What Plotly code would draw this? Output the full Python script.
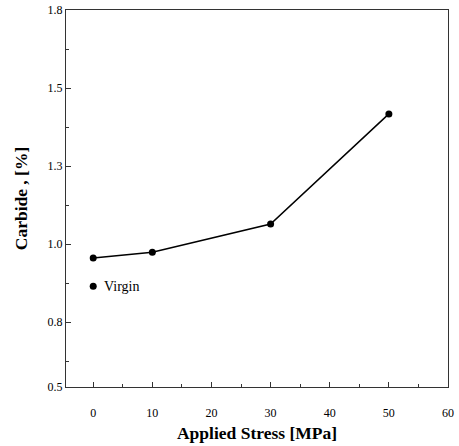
import plotly.graph_objects as go

stress = [0, 10, 30, 50]
carbide = [0.955, 0.974, 1.064, 1.417]
virgin_x = [0]
virgin_y = [0.865]

y_tickvals = [0.542, 0.75, 1.0, 1.25, 1.5, 1.75]
y_ticktext = ["0.5", "0.8", "1.0", "1.3", "1.5", "1.8"]
y_minor = [0.625, 0.875, 1.125, 1.375, 1.625]
x_tickvals = [0, 10, 20, 30, 40, 50, 60]
x_minor = [5, 15, 25, 35, 45, 55]

font_serif = "Liberation Serif, Times New Roman, serif"

fig = go.Figure()
fig.add_trace(go.Scatter(
    x=stress, y=carbide, mode="lines+markers",
    line=dict(color="black", width=1.5),
    marker=dict(color="black", size=7),
    showlegend=False, cliponaxis=False,
))
fig.add_trace(go.Scatter(
    x=virgin_x, y=virgin_y, mode="markers",
    marker=dict(color="black", size=7),
    showlegend=False, cliponaxis=False,
))
fig.add_annotation(
    x=virgin_x[0], y=virgin_y[0], text="Virgin", showarrow=False,
    xanchor="left", yanchor="middle", xshift=9,
    font=dict(family=font_serif, size=14, color="black"),
)

axis_common = dict(
    showline=True, linecolor="#333", linewidth=1, mirror=True,
    ticks="inside", ticklen=5, tickcolor="#333",
    showgrid=False, zeroline=False, automargin=False,
    ticklabeloverflow="allow",
    tickfont=dict(family=font_serif, size=12, color="black"),
)

fig.update_xaxes(
    range=[-4.6, 60], tickvals=x_tickvals, ticklabelstandoff=15,
    minor=dict(tickvals=x_minor, ticks="inside", ticklen=3, tickcolor="#333"),
    title=dict(text="<b>Applied Stress [MPa]</b>", font=dict(family=font_serif, size=17.5, color="black"), standoff=7),
    **axis_common,
)
fig.update_yaxes(
    range=[0.542, 1.75], tickvals=y_tickvals, ticktext=y_ticktext,
    minor=dict(tickvals=y_minor, ticks="inside", ticklen=3, tickcolor="#333"),
    title=dict(text="<b>Carbide , [%]</b>", font=dict(family=font_serif, size=17.5, color="black"), standoff=15),
    **axis_common,
)

fig.update_layout(
    width=459, height=446,
    margin=dict(l=66, r=11, t=10, b=59),
    paper_bgcolor="white", plot_bgcolor="white",
)

fig.write_html("out.html", config={"displayModeBar": False},
               post_script="document.body.style.margin='0';")
